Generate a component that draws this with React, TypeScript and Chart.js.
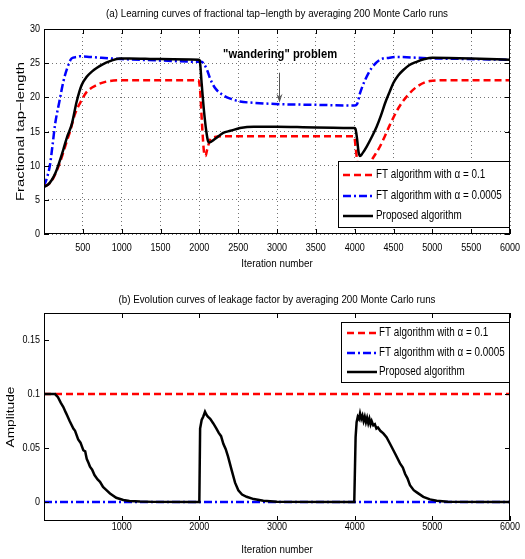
import React, { useEffect, useRef } from "react";
import { Chart, registerables } from "chart.js";

Chart.register(...registerables);

const FONT = "'Liberation Sans', Arial, Helvetica, sans-serif";

// ---------- (a) tap-length chart ----------
const tapTitle = "(a) Learning curves of fractional tap\u2212length by averaging 200 Monte Carlo runs";
const tapYTitle = "Fractional tap\u2212length";
const xTitle = "Iteration number";
const tapXTicks = [500, 1000, 1500, 2000, 2500, 3000, 3500, 4000, 4500, 5000, 5500, 6000];
const tapYTicks = [0, 5, 10, 15, 20, 25, 30];

const seriesLabels = [
  "FT algorithm with \u03b1 = 0.1",
  "FT algorithm with \u03b1 = 0.0005",
  "Proposed algorithm",
];

const redTapX = [0, 50, 100, 150, 200, 250, 300, 335, 400, 485, 550, 678, 800, 1000, 1500, 1990, 2010, 2035, 2060, 2080, 2100, 2140, 2200, 2300, 3000, 3500, 3995, 4010, 4040, 4090, 4150, 4219, 4326, 4455, 4562, 4691, 4820, 4970, 5200, 6000];
const redTapY = [7.0, 7.2, 7.8, 8.9, 10.3, 12.0, 13.8, 15.0, 17.6, 19.6, 20.8, 21.8, 22.3, 22.5, 22.5, 22.5, 21.0, 16.0, 12.0, 11.4, 12.3, 13.8, 14.2, 14.3, 14.3, 14.3, 14.3, 13.0, 10.0, 8.8, 9.3, 10.8, 12.8, 16.0, 18.4, 20.4, 21.7, 22.4, 22.5, 22.5];

const blueTapX = [0, 40, 77, 110, 142, 200, 249, 300, 356, 420, 463, 600, 1000, 1500, 2000, 2030, 2052, 2100, 2137, 2200, 2309, 2400, 2523, 2700, 3038, 3500, 3990, 4030, 4069, 4133, 4219, 4326, 4450, 4541, 5000, 5500, 6000];
const blueTapY = [7.0, 8.3, 10.1, 13.0, 16.0, 19.5, 22.3, 24.3, 25.7, 25.9, 26.0, 25.9, 25.6, 25.4, 25.2, 25.2, 25.0, 24.0, 22.8, 21.4, 20.3, 19.8, 19.4, 19.2, 19.0, 18.9, 18.8, 19.0, 20.6, 22.5, 24.3, 25.5, 25.8, 25.9, 25.7, 25.6, 25.5];

const blackTapX = [0, 50, 100, 150, 200, 250, 300, 356, 421, 485, 550, 620, 678, 750, 850, 978, 1100, 1500, 1995, 2005, 2030, 2060, 2090, 2112, 2129, 2200, 2307, 2400, 2524, 2700, 3000, 3500, 3995, 4010, 4030, 4050, 4069, 4100, 4155, 4220, 4283, 4340, 4390, 4450, 4498, 4560, 4627, 4700, 4798, 4900, 5000, 5500, 6000];
const blackTapY = [6.9, 7.2, 7.9, 9.0, 10.6, 12.4, 14.3, 16.0, 19.4, 21.8, 23.0, 23.8, 24.3, 24.8, 25.3, 25.7, 25.7, 25.6, 25.5, 25.4, 22.0, 18.0, 15.0, 13.6, 13.4, 13.9, 14.8, 15.1, 15.5, 15.7, 15.7, 15.6, 15.5, 15.4, 14.0, 12.0, 11.4, 11.8, 12.8, 14.2, 15.7, 17.4, 19.1, 20.8, 22.1, 23.2, 24.0, 24.7, 25.2, 25.6, 25.8, 25.7, 25.5];

const annotationText = "\"wandering\" problem";

// ---------- (b) leakage factor chart ----------
const leakTitle = "(b) Evolution curves of leakage factor by averaging 200 Monte Carlo runs";
const leakYTitle = "Amplitude";
const leakXTicks = [1000, 2000, 3000, 4000, 5000, 6000];
const leakYTicks = [0, 0.05, 0.1, 0.15];
const leakYTickLabels = ["0", "0.05", "0.1", "0.15"];

const redLeakX = [0, 6000];
const redLeakY = [0.1, 0.1];
const blueLeakX = [0, 6000];
const blueLeakY = [0, 0];

const blackLeakX = [0, 142, 180, 215, 249, 280, 300, 330, 378, 400, 440, 470, 506, 530, 550, 575, 592, 620, 650, 690, 721, 760, 790, 850, 930, 1021, 1100, 1236, 1400, 1995, 2000, 2010, 2030, 2050, 2073, 2090, 2110, 2140, 2180, 2220, 2250, 2280, 2309, 2340, 2370, 2416, 2460, 2502, 2550, 2609, 2700, 2824, 3000, 3995, 4000, 4012, 4025, 4040, 4055, 4069, 4085, 4100, 4115, 4130, 4145, 4160, 4175, 4190, 4205, 4219, 4240, 4260, 4280, 4300, 4330, 4369, 4410, 4455, 4520, 4584, 4620, 4650, 4680, 4712, 4760, 4800, 4884, 4970, 5056, 5200, 6000];
const blackLeakY = [0.1, 0.1, 0.097, 0.092, 0.088, 0.083, 0.080, 0.075, 0.068, 0.066, 0.058, 0.055, 0.048, 0.047, 0.040, 0.036, 0.0327, 0.030, 0.025, 0.021, 0.0188, 0.014, 0.012, 0.008, 0.004, 0.0019, 0.001, 0.0005, 0.0002, 0, 0, 0.068, 0.076, 0.079, 0.0836, 0.081, 0.079, 0.077, 0.0728, 0.068, 0.064, 0.061, 0.054, 0.049, 0.042, 0.0296, 0.018, 0.011, 0.007, 0.0049, 0.0028, 0.0012, 0.0003, 0, 0, 0.060, 0.074, 0.079, 0.077, 0.082, 0.077, 0.080, 0.075, 0.079, 0.074, 0.078, 0.073, 0.077, 0.072, 0.075, 0.071, 0.072, 0.068, 0.069, 0.066, 0.0636, 0.060, 0.054, 0.045, 0.0358, 0.032, 0.026, 0.022, 0.0157, 0.011, 0.009, 0.0049, 0.0025, 0.0012, 0.0003, 0];

// ---------- styles ----------
const RED = "#ff0000";
const BLUE = "#0000ff";
const BLACK = "#000000";
const RED_DASH = [7, 4];
const BLUE_DASH = [8, 3, 2, 3];

const pts = (xs: number[], ys: number[]) => xs.map((x, i) => ({ x, y: ys[i] }));

type TextOpts = { size: number; sx?: number; width?: number; bold?: boolean; align?: CanvasTextAlign; rotate?: boolean };

function drawText(ctx: CanvasRenderingContext2D, text: string, x: number, y: number, o: TextOpts) {
  ctx.save();
  ctx.font = `${o.bold ? "bold " : ""}${o.size}px ${FONT}`;
  let sx = o.sx ?? 1;
  if (o.width) sx = o.width / ctx.measureText(text).width;
  ctx.translate(x, y);
  if (o.rotate) ctx.rotate(-Math.PI / 2);
  ctx.scale(sx, 1);
  ctx.fillStyle = "#000";
  ctx.textAlign = o.align ?? "center";
  ctx.textBaseline = "middle";
  ctx.fillText(text, 0, 0);
  ctx.restore();
}

type LegendBox = { width: number; top: number; height: number; rows: number[]; sampleStart: number; sampleLen: number; textX: number };

type TextSpec = {
  title: string; titleY: number; titleW: number;
  xLabels: (v: number) => string; xLabelDy: number;
  yLabels: (v: number) => string; yLabelX: number;
  xTitleY: number; yTitle: string; yTitleX: number; yTitleLen: number;
};

function framePlugin(id: string, spec: TextSpec) {
  return {
    id,
    afterDatasetsDraw(chart: any) {
      const { ctx, chartArea: a, scales } = chart;
      ctx.save();
      ctx.setLineDash([]);
      ctx.strokeStyle = "#000";
      ctx.lineWidth = 1;
      ctx.strokeRect(Math.round(a.left) + 0.5, Math.round(a.top) + 0.5, Math.round(a.right - a.left) - 1, Math.round(a.bottom - a.top) - 1);
      const tl = 5;
      ctx.beginPath();
      for (const t of scales.x.ticks) {
        const px = Math.round(scales.x.getPixelForValue(t.value)) + 0.5;
        ctx.moveTo(px, a.bottom);
        ctx.lineTo(px, a.bottom - tl);
        ctx.moveTo(px, a.top);
        ctx.lineTo(px, a.top + tl);
      }
      for (const t of scales.y.ticks) {
        const py = Math.round(scales.y.getPixelForValue(t.value)) + 0.5;
        ctx.moveTo(a.left, py);
        ctx.lineTo(a.left + tl, py);
        ctx.moveTo(a.right, py);
        ctx.lineTo(a.right - tl, py);
      }
      ctx.stroke();
      ctx.restore();
    },
    afterDraw(chart: any) {
      const { ctx, chartArea: a, scales } = chart;
      const cx = (a.left + a.right) / 2;
      drawText(ctx, spec.title, cx, spec.titleY, { size: 11, width: spec.titleW });
      for (const t of scales.x.ticks) {
        drawText(ctx, spec.xLabels(t.value), scales.x.getPixelForValue(t.value), a.bottom + spec.xLabelDy, { size: 11, sx: 0.82 });
      }
      for (const t of scales.y.ticks) {
        drawText(ctx, spec.yLabels(t.value), spec.yLabelX, scales.y.getPixelForValue(t.value), { size: 11, sx: 0.82, align: "right" });
      }
      drawText(ctx, xTitle, cx, spec.xTitleY, { size: 11, sx: 0.89 });
      drawText(ctx, spec.yTitle, spec.yTitleX, (a.top + a.bottom) / 2, { size: 11, width: spec.yTitleLen, rotate: true });
    },
  };
}

function legendPlugin(id: string, box: LegendBox) {
  return {
    id,
    afterDatasetsDraw(chart: any) {
      const { ctx, chartArea: a } = chart;
      const left = a.right - box.width;
      ctx.save();
      ctx.fillStyle = "#fff";
      ctx.fillRect(left, box.top, box.width, box.height);
      ctx.strokeStyle = "#000";
      ctx.lineWidth = 1;
      ctx.setLineDash([]);
      ctx.strokeRect(Math.round(left) + 0.5, box.top + 0.5, box.width - 1, box.height - 1);
      [0, 1, 2].forEach((di, r) => {
        const ds = chart.data.datasets[di];
        const y = box.top + box.rows[r];
        ctx.beginPath();
        ctx.strokeStyle = ds.borderColor;
        ctx.lineWidth = ds.borderWidth;
        ctx.setLineDash(ds.borderDash || []);
        ctx.moveTo(left + box.sampleStart, y);
        ctx.lineTo(left + box.sampleStart + box.sampleLen, y);
        ctx.stroke();
        ctx.setLineDash([]);
        drawText(ctx, ds.label, left + box.textX, y, { size: 12.5, sx: 0.79, align: "left" });
      });
      ctx.restore();
    },
  };
}

const annotationPlugin = {
  id: "wandering",
  afterDatasetsDraw(chart: any) {
    const { ctx, scales } = chart;
    const tx = scales.x.getPixelForValue(3040);
    const ty = scales.y.getPixelForValue(26.2);
    drawText(ctx, annotationText, tx, ty, { size: 12.5, bold: true, width: 114 });
    ctx.save();
    const ax = Math.round(scales.x.getPixelForValue(3030)) + 0.5;
    const y1 = scales.y.getPixelForValue(23.6);
    const y2 = scales.y.getPixelForValue(19.2);
    ctx.strokeStyle = "#555";
    ctx.fillStyle = "#555";
    ctx.lineWidth = 1;
    ctx.setLineDash([]);
    ctx.beginPath();
    ctx.moveTo(ax, y1);
    ctx.lineTo(ax, y2 - 6);
    ctx.stroke();
    ctx.beginPath();
    ctx.moveTo(ax, y2);
    ctx.lineTo(ax - 3, y2 - 9);
    ctx.lineTo(ax, y2 - 6);
    ctx.lineTo(ax + 3, y2 - 9);
    ctx.closePath();
    ctx.fill();
    ctx.restore();
  },
};

function makeDatasets(rx: number[], ry: number[], bx: number[], by: number[], kx: number[], ky: number[], smooth: boolean) {
  const common = { pointRadius: 0, fill: false, cubicInterpolationMode: smooth ? "monotone" : "default", tension: 0 };
  return [
    { ...common, label: seriesLabels[0], data: pts(rx, ry), borderColor: RED, borderWidth: 2.5, borderDash: RED_DASH, order: 1 },
    { ...common, label: seriesLabels[1], data: pts(bx, by), borderColor: BLUE, borderWidth: 2.5, borderDash: BLUE_DASH, order: 2 },
    { ...common, label: seriesLabels[2], data: pts(kx, ky), borderColor: BLACK, borderWidth: 2.5, order: 0 },
  ];
}

function ChartCanvas({ config, width, height, top }: { config: any; width: number; height: number; top: number }) {
  const ref = useRef<HTMLCanvasElement | null>(null);
  useEffect(() => {
    if (!ref.current) return;
    const chart = new Chart(ref.current, config);
    return () => chart.destroy();
  }, []);
  return (
    <canvas
      ref={ref}
      width={width}
      height={height}
      style={{ position: "absolute", left: 0, top, width, height }}
    />
  );
}

const gridOn = { display: true, color: "rgba(0,0,0,0.55)", lineWidth: 1, drawTicks: false };

const tapConfig = {
  type: "line",
  data: { datasets: makeDatasets(redTapX, redTapY, blueTapX, blueTapY, blackTapX, blackTapY, true) },
  options: {
    responsive: false,
    animation: false,
    layout: { padding: { left: 0, right: 15, top: 29, bottom: 0 } },
    plugins: { legend: { display: false }, tooltip: { enabled: false }, title: { display: false } },
    scales: {
      x: {
        type: "linear",
        min: 0,
        max: 6000,
        afterBuildTicks: (s: any) => { s.ticks = tapXTicks.map((v) => ({ value: v })); },
        afterFit: (s: any) => { s.height = 46; },
        ticks: { display: false },
        grid: gridOn,
        border: { display: false, dash: [1, 3] },
      },
      y: {
        type: "linear",
        min: 0,
        max: 30,
        afterBuildTicks: (s: any) => { s.ticks = tapYTicks.map((v) => ({ value: v })); },
        afterFit: (s: any) => { s.width = 44; },
        ticks: { display: false },
        grid: gridOn,
        border: { display: false, dash: [1, 3] },
      },
    },
  },
  plugins: [
    framePlugin("frameA", {
      title: tapTitle, titleY: 14, titleW: 342,
      xLabels: (v) => String(v), xLabelDy: 13.5,
      yLabels: (v) => String(v), yLabelX: 40,
      xTitleY: 264, yTitle: tapYTitle, yTitleX: 21, yTitleLen: 139,
    }),
    annotationPlugin,
    legendPlugin("legendA", { width: 172, top: 161, height: 67, rows: [14, 35, 55], sampleStart: 5, sampleLen: 30, textX: 38 }),
  ],
};

const leakConfig = {
  type: "line",
  data: { datasets: makeDatasets(redLeakX, redLeakY, blueLeakX, blueLeakY, blackLeakX, blackLeakY, false) },
  options: {
    responsive: false,
    animation: false,
    layout: { padding: { left: 0, right: 15, top: 33, bottom: 0 } },
    plugins: { legend: { display: false }, tooltip: { enabled: false }, title: { display: false } },
    scales: {
      x: {
        type: "linear",
        min: 0,
        max: 6000,
        afterBuildTicks: (s: any) => { s.ticks = leakXTicks.map((v) => ({ value: v })); },
        afterFit: (s: any) => { s.height = 38; },
        ticks: { display: false },
        grid: { display: false, drawTicks: false },
        border: { display: false },
      },
      y: {
        type: "linear",
        min: -0.0175,
        max: 0.175,
        afterBuildTicks: (s: any) => { s.ticks = leakYTicks.map((v) => ({ value: v })); },
        afterFit: (s: any) => { s.width = 44; },
        ticks: { display: false },
        grid: { display: false, drawTicks: false },
        border: { display: false },
      },
    },
  },
  plugins: [
    framePlugin("frameB", {
      title: leakTitle, titleY: 20, titleW: 317,
      xLabels: (v) => String(v), xLabelDy: 5.5,
      yLabels: (v) => {
        const i = leakYTicks.findIndex((t) => Math.abs(t - v) < 1e-9);
        return i >= 0 ? leakYTickLabels[i] : "";
      },
      yLabelX: 40,
      xTitleY: 270, yTitle: leakYTitle, yTitleX: 11, yTitleLen: 61,
    }),
    legendPlugin("legendB", { width: 169, top: 42, height: 61, rows: [11, 31, 50], sampleStart: 6, sampleLen: 30, textX: 38 }),
  ],
};

export default function App() {
  return (
    <div style={{ position: "absolute", left: 0, top: 0, width: 525, height: 559, background: "#fff" }}>
      <ChartCanvas config={tapConfig} width={525} height={280} top={0} />
      <ChartCanvas config={leakConfig} width={525} height={279} top={280} />
    </div>
  );
}
